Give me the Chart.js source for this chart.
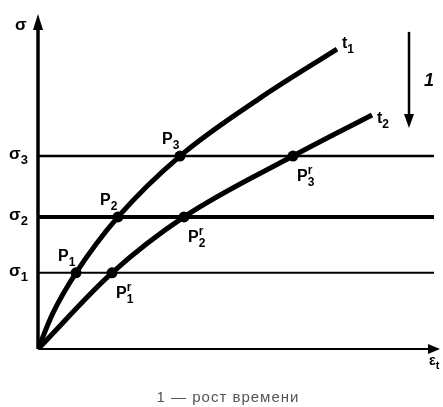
<!DOCTYPE html>
<html>
<head>
<meta charset="utf-8">
<script src="https://cdn.jsdelivr.net/npm/chart.js@4"></script>
<style>
body{margin:0;background:#fff}
canvas{display:block}
</style>
</head>
<body>
<canvas id="grafico" width="443" height="407"></canvas>
<script>
// уровни напряжения sigma1..sigma3
const sigmaLevels = [23, 39.9, 58.3];
const sigmaNames = ['1', '2', '3'];
const sigmaWidths = [2, 4, 2.5];

// изохронные кривые t1 и t2
const t1X = [0, 3.75, 9.5, 20, 35.5, 55.5, 74.75];
const t1Y = [0, 10.9, 23, 39.9, 58.3, 75.8, 90.6];
const t2X = [0, 18.5, 36.5, 63.75, 83.5];
const t2Y = [0, 23, 39.9, 58.3, 70.7];

const lineEnd = 99;
const caption = '1 — рост времени';

const toPts = (xs, ys) => xs.map((x, i) => ({x: x, y: ys[i]}));
const isLevel = y => sigmaLevels.includes(y);

const datasets = [];
sigmaLevels.forEach((s, i) => {
    datasets.push({
        data: [{x: 0, y: s}, {x: lineEnd, y: s}],
        borderColor: '#000',
        borderWidth: sigmaWidths[i],
        pointRadius: 0
    });
});
[[t1X, t1Y], [t2X, t2Y]].forEach(c => {
    datasets.push({
        data: toPts(c[0], c[1]),
        borderColor: '#000',
        borderWidth: 5,
        cubicInterpolationMode: 'monotone',
        pointRadius: ctx => isLevel(ctx.raw.y) ? 5.5 : 0,
        pointBackgroundColor: '#000',
        pointBorderWidth: 0
    });
});

function subText(ctx, main, sub, x, y, size, extra) {
    ctx.font = 'bold ' + size + 'px "Liberation Sans", Arial, sans-serif';
    ctx.textAlign = 'left';
    ctx.textBaseline = 'alphabetic';
    ctx.fillText(main, x, y);
    const w = ctx.measureText(main).width;
    ctx.font = 'bold ' + Math.round(size * 0.75) + 'px "Liberation Sans", Arial, sans-serif';
    ctx.fillText(sub, x + w, y + size * 0.3);
    if (extra) ctx.fillText(extra, x + w, y - size * 0.45);
}

const drawing = {
    id: 'drawing',
    beforeDatasetsDraw(chart) {
        const ctx = chart.ctx;
        const xs = chart.scales.x, ys = chart.scales.y;
        const x0 = xs.getPixelForValue(0), y0 = ys.getPixelForValue(0);
        const xTop = xs.getPixelForValue(100), yTop = ys.getPixelForValue(100);
        ctx.save();
        ctx.strokeStyle = '#000';
        ctx.fillStyle = '#000';
        // ось sigma
        ctx.lineWidth = 3.5;
        ctx.beginPath();
        ctx.moveTo(x0, y0);
        ctx.lineTo(x0, yTop + 8);
        ctx.stroke();
        ctx.beginPath();
        ctx.moveTo(x0, yTop - 4);
        ctx.lineTo(x0 - 5, yTop + 12);
        ctx.lineTo(x0 + 5, yTop + 12);
        ctx.closePath();
        ctx.fill();
        // ось деформации
        ctx.lineWidth = 2;
        ctx.beginPath();
        ctx.moveTo(x0, y0);
        ctx.lineTo(xTop - 6, y0);
        ctx.stroke();
        ctx.beginPath();
        ctx.moveTo(xTop + 2, y0);
        ctx.lineTo(xTop - 10, y0 - 5);
        ctx.lineTo(xTop - 10, y0 + 5);
        ctx.closePath();
        ctx.fill();
        // стрелка роста времени
        const ax = xs.getPixelForValue(92.75);
        const ay1 = ys.getPixelForValue(95.8), ay2 = ys.getPixelForValue(66.8);
        ctx.lineWidth = 2.5;
        ctx.beginPath();
        ctx.moveTo(ax, ay1);
        ctx.lineTo(ax, ay2 - 10);
        ctx.stroke();
        ctx.beginPath();
        ctx.moveTo(ax, ay2);
        ctx.lineTo(ax - 5, ay2 - 14);
        ctx.lineTo(ax + 5, ay2 - 14);
        ctx.closePath();
        ctx.fill();
        ctx.restore();
    },
    afterDraw(chart) {
        const ctx = chart.ctx;
        const xs = chart.scales.x, ys = chart.scales.y;
        const px = v => xs.getPixelForValue(v), py = v => ys.getPixelForValue(v);
        ctx.save();
        ctx.fillStyle = '#000';
        subText(ctx, 'σ', '', 15, py(100) + 12, 17);
        sigmaLevels.forEach((s, i) => subText(ctx, 'σ', sigmaNames[i], 9, py(s) + 3, 17));
        // точки на t1
        sigmaLevels.forEach((s, i) => {
            const k = t1Y.indexOf(s);
            subText(ctx, 'P', sigmaNames[i], px(t1X[k]) - 18, py(s) - 12, 16);
        });
        // точки на t2
        sigmaLevels.forEach((s, i) => {
            const k = t2Y.indexOf(s);
            subText(ctx, 'P', sigmaNames[i], px(t2X[k]) + 4, py(s) + 25, 16, 'r');
        });
        subText(ctx, 't', '1', px(t1X[t1X.length - 1]) + 5, py(t1Y[t1Y.length - 1]) - 1, 16);
        subText(ctx, 't', '2', px(t2X[t2X.length - 1]) + 5, py(t2Y[t2Y.length - 1]) + 8, 16);
        subText(ctx, 'ε', 't', px(100) - 9, py(0) + 16, 14);
        ctx.font = 'italic bold 18px "Liberation Sans", Arial, sans-serif';
        ctx.fillText('1', px(96.5), py(79.5));
        ctx.font = '15px "Liberation Sans", Arial, sans-serif';
        ctx.letterSpacing = '1px';
        ctx.fillStyle = '#555';
        ctx.textAlign = 'center';
        ctx.fillText(caption, 228, 402);
        ctx.restore();
    }
};

new Chart(document.getElementById('grafico'), {
    type: 'line',
    data: {datasets: datasets},
    options: {
        responsive: false,
        animation: false,
        layout: {padding: {left: 38, right: 5, top: 18, bottom: 58}},
        scales: {
            x: {type: 'linear', min: 0, max: 100, display: false},
            y: {type: 'linear', min: 0, max: 100, display: false}
        },
        plugins: {
            legend: {display: false},
            tooltip: {enabled: false}
        }
    },
    plugins: [drawing]
});
</script>
</body>
</html>
